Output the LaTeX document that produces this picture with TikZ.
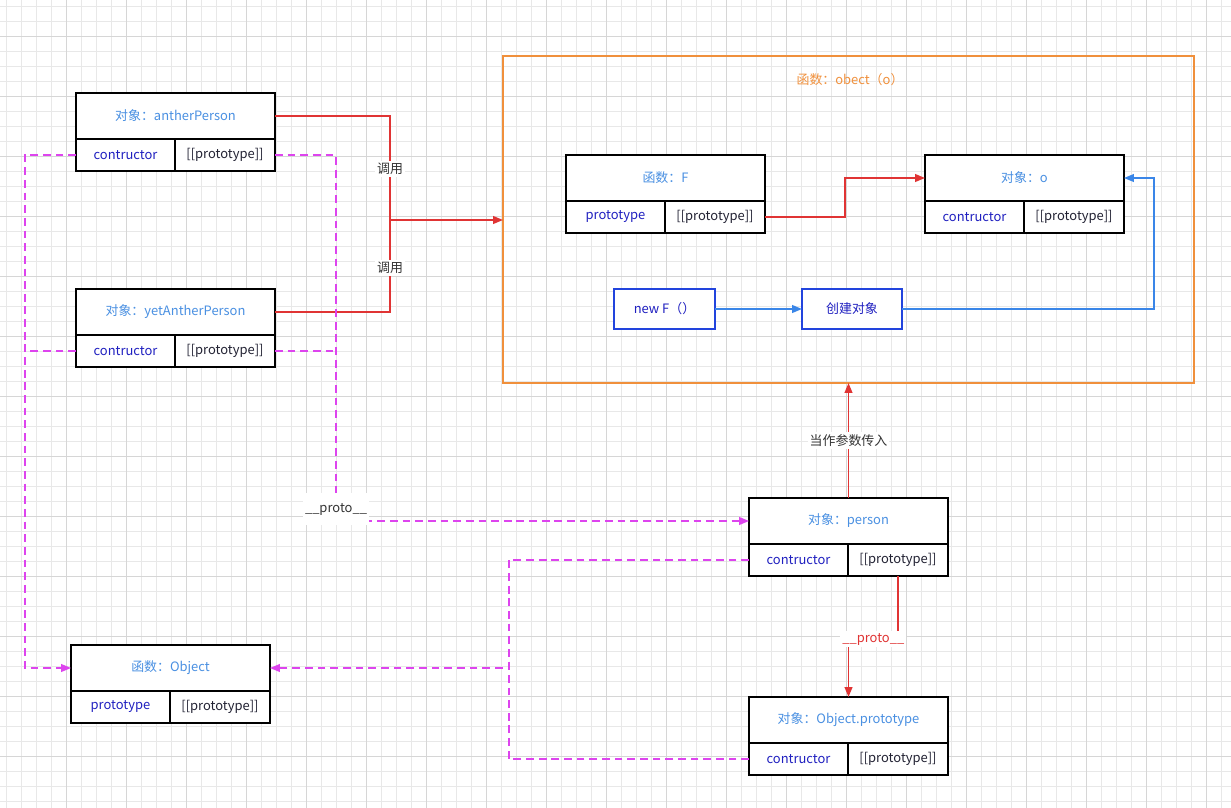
\documentclass[tikz,border=0pt]{standalone}
\usepackage{fontspec}
\setmainfont{Noto Sans CJK SC}
\usetikzlibrary{arrows.meta,calc}
\definecolor{hdrblue}{HTML}{4A90E2}
\definecolor{cellblue}{HTML}{2020C0}
\definecolor{darktxt}{HTML}{222233}
\definecolor{labtxt}{HTML}{333333}
\definecolor{magline}{HTML}{DD44EE}
\definecolor{redline}{HTML}{E03434}
\definecolor{blueline}{HTML}{3A86E8}
\definecolor{newblue}{HTML}{2244DD}
\definecolor{orangebox}{HTML}{F0903C}
\newcommand{\pu}{0.025cm}
% one object box: name, left x, top y, title, left cell, right cell
\newcommand{\objbox}[6]{%
  \node[hdr, anchor=north west] (#1) at (#2,#3) {#4};
  \node[lcell, anchor=north west] (#1-l) at (#1.south west) {#5};
  \node[rcell, anchor=north west] (#1-r) at (#1-l.north east) {#6};}

\begin{document}
\begin{tikzpicture}[x=0.025cm, y=-0.025cm, >={Triangle[length=7pt,width=5.5pt]},
  font=\fontsize{9.2}{11}\selectfont,
  gridminor/.style={draw=black!9, line width=0.5pt},
  gridmajor/.style={draw=black!16, line width=0.6pt},
  boxline/.style={draw, line width=1.3pt, outer sep=0pt, fill=white, inner sep=0pt},
  hdr/.style={boxline, text=hdrblue, minimum width=199*\pu, minimum height=46*\pu},
  lcell/.style={boxline, text=cellblue, minimum width=99*\pu, minimum height=32*\pu},
  rcell/.style={boxline, text=darktxt, minimum width=100*\pu, minimum height=32*\pu},
  stepbox/.style={draw=newblue, line width=1.3pt, outer sep=0pt, fill=white, text=cellblue,
    minimum width=101*\pu, minimum height=40*\pu, inner sep=0pt},
  redarrow/.style={draw=redline, line width=1.1pt},
  bluearrow/.style={draw=blueline, line width=1.1pt},
  magdash/.style={draw=magline, line width=1.1pt, dash pattern=on 5.5pt off 3.5pt},
  lbl/.style={fill=white, text=labtxt, inner sep=1.5pt}]
\useasboundingbox (0,0) rectangle (1231,808);
\fill[white] (0,0) rectangle (1231,808);
% background grid
\foreach \gx in {6,21,...,1231} \draw[gridminor] (\gx,0) -- (\gx,808);
\foreach \gy in {6,21,...,808} \draw[gridminor] (0,\gy) -- (1231,\gy);
\foreach \gx in {66,126,...,1231} \draw[gridmajor] (\gx,0) -- (\gx,808);
\foreach \gy in {36,96,...,808} \draw[gridmajor] (0,\gy) -- (1231,\gy);

% the function obect(o)
\node[draw=orangebox, line width=1.3pt, outer sep=0pt, minimum width=691*\pu,
  minimum height=327*\pu, anchor=north west, inner sep=0pt] (fnobect) at (503,56) {};
\node[text=orangebox] (fnobect-t) at (850,80) {函数：obect（o）};
\objbox{fnF}{566}{155}{函数：F}{prototype}{[[prototype]]}
\objbox{objO}{925}{155}{对象：o}{contructor}{[[prototype]]}
\node[stepbox] (newF) at (664.5,309) {new F（）};
\node[stepbox, minimum width=100*\pu] (create) at (852,309) {创建对象};
\draw[redarrow,->] (fnF-r.east) -- ++(80,0) |- (objO.west);
\draw[bluearrow,->] (newF) -- (create);
\draw[bluearrow,->] (create.east) -- ++(252,0) |- (objO.east);

% the objects
\objbox{anther}{76}{93}{对象：antherPerson}{contructor}{[[prototype]]}
\objbox{yetanther}{76}{289}{对象：yetAntherPerson}{contructor}{[[prototype]]}
\objbox{object}{71}{645}{函数：Object}{prototype}{[[prototype]]}
\objbox{person}{749}{498}{对象：person}{contructor}{[[prototype]]}
\objbox{objproto}{749}{697}{对象：Object.prototype}{contructor}{[[prototype]]}

% calls
\coordinate (call) at (390,220);
\draw[redarrow] (anther.east) -| (call);
\draw[redarrow] (yetanther.east) -| (call);
\draw[redarrow,->] (call) -- (call -| fnobect.west);
\node[lbl] (call1) at (390,169) {调用};
\node[lbl] (call2) at (390,268) {调用};
\draw[redarrow,->] (person.north) -- (person.north |- fnobect.south)
  node[midway, lbl] (param) {当作参数传入};
\draw[redarrow,->] (person-r.south) -- ++(0,63) -| (objproto.north)
  node[pos=0.25, lbl, text=redline] (proto2) {\_\_proto\_\_};

% constructor and __proto__ links
\coordinate (lbus) at (25,0);
\coordinate (rbus) at (336,0);
\coordinate (mbus) at (509,0);
\draw[magdash,->] (anther-l.west) -| (lbus |- object.west) -- (object.west);
\draw[magdash] (yetanther-l.west) -- (lbus |- yetanther-l.west);
\draw[magdash,->] (anther-r.east) -| (rbus |- person.west) -- (person.west);
\draw[magdash] (yetanther-r.east) -- (rbus |- yetanther-r.east);
\node[lbl, minimum width=66*\pu, minimum height=32*\pu] (proto1) at (336,509) {\_\_proto\_\_};
\draw[magdash,->] (person-l.west) -| (mbus |- object.east) -- (object.east);
\draw[magdash] (objproto-l.west) -| (mbus |- object.east);
\end{tikzpicture}
\end{document}
